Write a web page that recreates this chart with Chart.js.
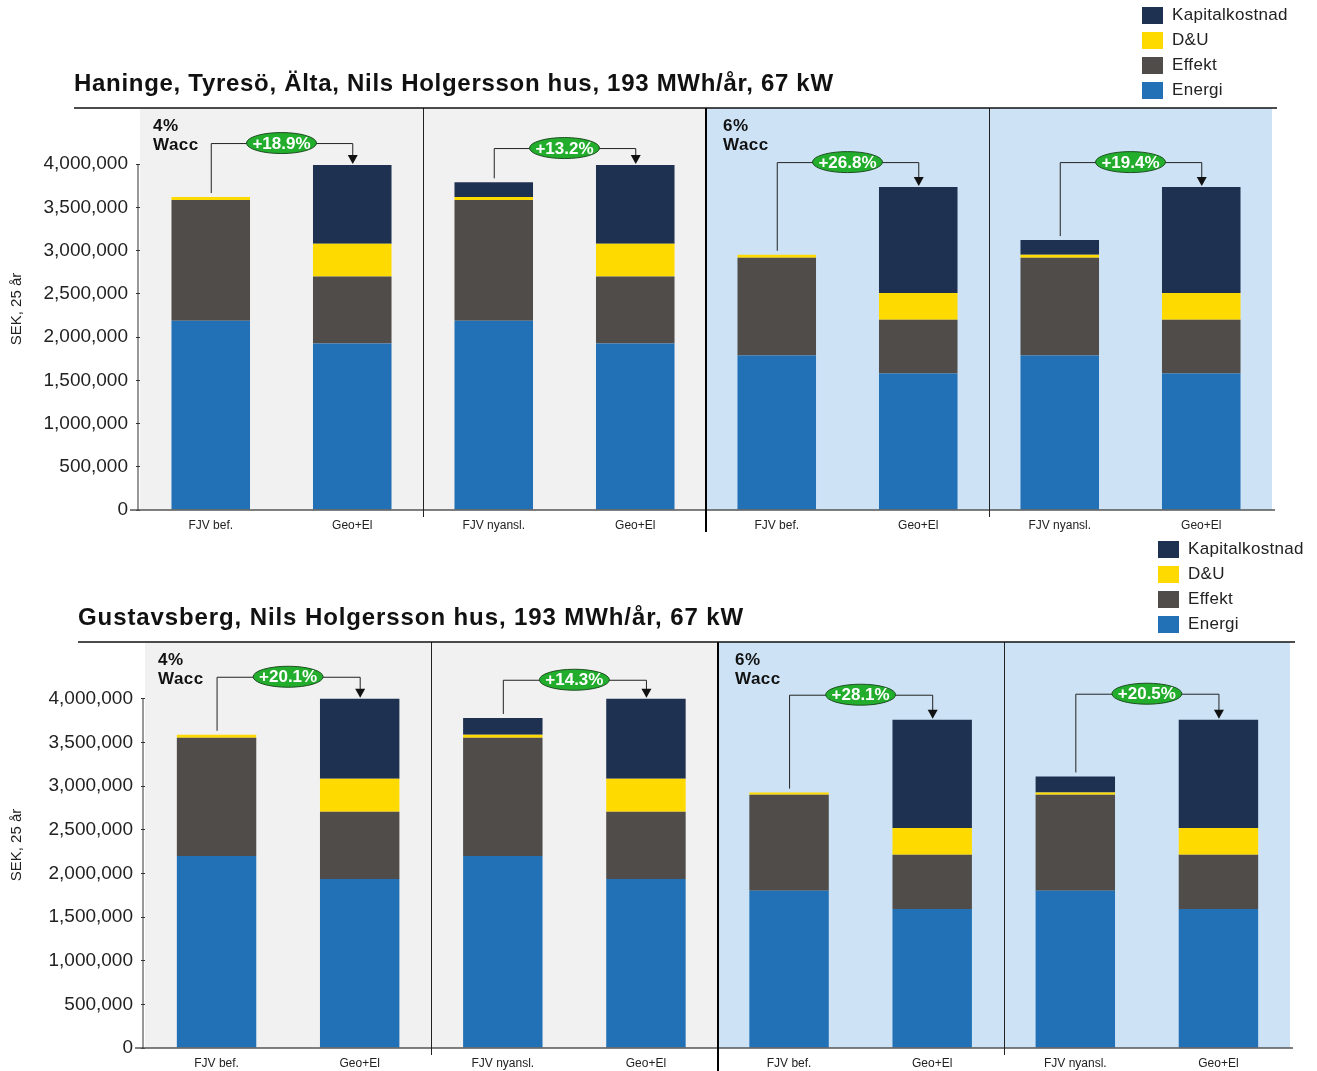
<!DOCTYPE html>
<html>
<head>
<meta charset="utf-8">
<script src="https://cdn.jsdelivr.net/npm/chart.js@4"></script>
<style>
  html, body { margin: 0; padding: 0; background: #fff; }
  canvas { display: block; }
</style>
</head>
<body>
<canvas id="chart-top" width="1317" height="535"></canvas>
<canvas id="chart-bottom" width="1317" height="536"></canvas>
<script>
// ── Data ────────────────────────────────────────────────────
const categories = ['FJV bef.', 'Geo+El', 'FJV nyansl.', 'Geo+El', 'FJV bef.', 'Geo+El', 'FJV nyansl.', 'Geo+El'];
const seriesNames = ['Energi', 'Effekt', 'D&U', 'Kapitalkostnad'];

const topTitle   = 'Haninge, Tyresö, Älta, Nils Holgersson hus, 193 MWh/år, 67 kW';
const topEnergi  = [2190000, 1925000, 2190000, 1925000, 1787000, 1580000, 1787000, 1580000];
const topEffekt  = [1395000,  775000, 1395000,  775000, 1130000,  620000, 1130000,  620000];
const topDU      = [  35000,  380000,   35000,  380000,   35000,  310000,   35000,  310000];
const topKapital = [      0,  910000,  170000,  910000,       0, 1225000,  170000, 1225000];
const topChanges = ['+18.9%', '+13.2%', '+26.8%', '+19.4%'];

const botTitle   = 'Gustavsberg, Nils Holgersson hus, 193 MWh/år, 67 kW';
const botEnergi  = [2200000, 1937000, 2200000, 1937000, 1800000, 1593000, 1800000, 1593000];
const botEffekt  = [1353000,  768000, 1353000,  768000, 1100000,  619000, 1100000,  619000];
const botDU      = [  34000,  378000,   34000,  378000,   25000,  308000,   25000,  308000];
const botKapital = [      0,  917000,  193000,  917000,       0, 1240000,  185000, 1240000];
const botChanges = ['+20.1%', '+14.3%', '+28.1%', '+20.5%'];

const waccLabels = [['4%', 'Wacc'], ['6%', 'Wacc']];
const yTicks = [0, 500000, 1000000, 1500000, 2000000, 2500000, 3000000, 3500000, 4000000];

const COLORS = {
  energi:  '#2271b6',
  effekt:  '#4f4c49',
  du:      '#ffda00',
  kapital: '#1f3150',
  grey:    '#f1f1f1',
  blue:    '#cde3f5',
  green:   '#22ad2c',
};
const SERIES_COLORS = [COLORS.energi, COLORS.effekt, COLORS.du, COLORS.kapital];
const FONT = '"Liberation Sans", Arial, sans-serif';

// ── Overlay plugin: backgrounds, dividers, arrows, title, legend ──
const overlayPlugin = {
  id: 'overlay',
  beforeDatasetsDraw(chart, args, o) {
    const { ctx, chartArea: a, scales: { x } } = chart;
    const mid = (x.getPixelForTick(3) + x.getPixelForTick(4)) / 2;
    ctx.save();
    ctx.fillStyle = COLORS.grey;
    ctx.fillRect(a.left, a.top, mid - a.left, a.bottom - a.top);
    ctx.fillStyle = COLORS.blue;
    ctx.fillRect(mid, a.top, a.right - mid, a.bottom - a.top);
    ctx.restore();
  },
  afterDatasetsDraw(chart, args, o) {
    const { ctx, chartArea: a, scales: { x, y } } = chart;
    const px = i => x.getPixelForTick(i);
    const between = (i, j) => (px(i) + px(j)) / 2;
    ctx.save();

    // x axis line
    ctx.strokeStyle = '#555';
    ctx.lineWidth = 1.5;
    ctx.beginPath();
    ctx.moveTo(a.left - 10, a.bottom);
    ctx.lineTo(a.right + 3, a.bottom);
    ctx.stroke();

    // y axis line (up to top tick)
    ctx.strokeStyle = '#333';
    ctx.lineWidth = 1;
    ctx.beginPath();
    ctx.moveTo(a.left - 2, y.getPixelForValue(4000000));
    ctx.lineTo(a.left - 2, a.bottom);
    ctx.stroke();

    // thin dividers
    ctx.strokeStyle = '#222';
    ctx.lineWidth = 1;
    [[1, 2], [5, 6]].forEach(([i, j]) => {
      const xx = Math.round(between(i, j)) + 0.5;
      ctx.beginPath();
      ctx.moveTo(xx, a.top);
      ctx.lineTo(xx, a.bottom + 7);
      ctx.stroke();
    });
    // thick divider
    ctx.strokeStyle = '#000';
    ctx.lineWidth = 2;
    const mx = Math.round(between(3, 4));
    ctx.beginPath();
    ctx.moveTo(mx, a.top);
    ctx.lineTo(mx, a.bottom + o.thickExtend);
    ctx.stroke();

    // top rule
    ctx.strokeStyle = '#111';
    ctx.lineWidth = 1.5;
    ctx.beginPath();
    ctx.moveTo(o.ruleLeft, a.top);
    ctx.lineTo(a.right + 5, a.top);
    ctx.stroke();

    // Wacc labels
    ctx.fillStyle = '#111';
    ctx.font = 'bold 17px ' + FONT;
    ctx.letterSpacing = '0.5px';
    ctx.textBaseline = 'middle';
    ctx.textAlign = 'left';
    [[a.left, 13], [mx, 17]].forEach(([x0, dx], k) => {
      ctx.fillText(waccLabels[k][0], x0 + dx, a.top + 18);
      ctx.fillText(waccLabels[k][1], x0 + dx, a.top + 37);
    });
    ctx.letterSpacing = '0px';

    // change arrows
    const totals = categories.map((_, i) =>
      chart.data.datasets.reduce((s, d) => s + d.data[i], 0));
    o.changes.forEach((label, g) => {
      const xl = px(2 * g), xr = px(2 * g + 1);
      const yl = y.getPixelForValue(totals[2 * g]);
      const yr = y.getPixelForValue(totals[2 * g + 1]);
      const elbow = yr - o.offsets[g];
      ctx.strokeStyle = '#222';
      ctx.lineWidth = 1;
      ctx.beginPath();
      ctx.moveTo(xl + 0.5, yl - 4);
      ctx.lineTo(xl + 0.5, elbow + 0.5);
      ctx.lineTo(xr + 0.5, elbow + 0.5);
      ctx.lineTo(xr + 0.5, yr - 9);
      ctx.stroke();
      ctx.fillStyle = '#111';
      ctx.beginPath();
      ctx.moveTo(xr - 4.5, yr - 10);
      ctx.lineTo(xr + 5.5, yr - 10);
      ctx.lineTo(xr + 0.5, yr - 1);
      ctx.closePath();
      ctx.fill();

      const cx = (xl + xr) / 2;
      ctx.fillStyle = COLORS.green;
      ctx.strokeStyle = '#1d4f20';
      ctx.lineWidth = 1;
      ctx.beginPath();
      ctx.ellipse(cx, elbow, 35, 10.5, 0, 0, Math.PI * 2);
      ctx.fill();
      ctx.stroke();
      ctx.fillStyle = '#fff';
      ctx.font = 'bold 17px ' + FONT;
      ctx.textAlign = 'center';
      ctx.fillText(label, cx, elbow + 1);
    });

    // title
    ctx.fillStyle = '#111';
    ctx.font = 'bold 24px ' + FONT;
    ctx.letterSpacing = o.titleSpacing;
    ctx.textAlign = 'left';
    ctx.fillText(o.title, o.titleX, o.titleY);
    ctx.letterSpacing = '0px';

    // legend (reverse order: Kapitalkostnad first)
    ctx.font = '17px ' + FONT;
    ctx.letterSpacing = '0.3px';
    const ds = chart.data.datasets.slice().reverse();
    ds.forEach((d, k) => {
      const yy = o.legendY + k * 25;
      ctx.fillStyle = d.backgroundColor;
      ctx.fillRect(o.legendX, yy - 8, 21, 17);
      ctx.fillStyle = '#222';
      ctx.fillText(d.label, o.legendX + 30, yy);
    });
    ctx.restore();
  },
};

function makeChart(id, series, cfg) {
  const ctx = document.getElementById(id).getContext('2d');
  return new Chart(ctx, {
    type: 'bar',
    data: {
      labels: categories,
      datasets: series.map((vals, i) => ({
        label: seriesNames[i],
        data: vals,
        backgroundColor: SERIES_COLORS[i],
        borderWidth: 0,
        barPercentage: 0.555,
        categoryPercentage: 1,
      })),
    },
    options: {
      responsive: false,
      animation: false,
      layout: { padding: { top: cfg.top, right: cfg.right, left: 0, bottom: 0 } },
      plugins: {
        legend: { display: false },
        tooltip: { enabled: false },
        overlay: cfg.overlay,
      },
      scales: {
        x: {
          stacked: true,
          grid: { display: false },
          border: { display: false },
          ticks: { color: '#222', font: { family: FONT, size: 12 }, padding: 0, maxRotation: 0 },
          afterFit: s => { s.height = cfg.xHeight; },
        },
        y: {
          stacked: true,
          min: 0,
          max: 4650000,
          afterBuildTicks: s => { s.ticks = yTicks.map(v => ({ value: v })); },
          grid: { drawOnChartArea: false, drawTicks: true, tickLength: 4, color: '#333' },
          border: { display: false },
          ticks: {
            color: '#222',
            padding: 8,
            font: { family: FONT, size: 19 },
            callback: v => v.toLocaleString('en-US'),
          },
          title: {
            display: true,
            text: 'SEK, 25 år',
            color: '#222',
            font: { family: FONT, size: 15 },
            padding: { top: 8, bottom: 0 },
          },
          afterFit: s => { s.width = cfg.yWidth; },
        },
      },
    },
    plugins: [overlayPlugin],
  });
}

makeChart('chart-top', [topEnergi, topEffekt, topDU, topKapital], {
  top: 108, right: 45, xHeight: 25, yWidth: 140,
  overlay: {
    title: topTitle, titleX: 74, titleY: 84, titleSpacing: '0.7px',
    legendX: 1142, legendY: 15,
    ruleLeft: 74, thickExtend: 22,
    changes: topChanges, offsets: [22, 17, 25, 25],
  },
});

makeChart('chart-bottom', [botEnergi, botEffekt, botDU, botKapital], {
  top: 107, right: 27, xHeight: 23, yWidth: 145,
  overlay: {
    title: botTitle, titleX: 78, titleY: 83, titleSpacing: '0.9px',
    legendX: 1158, legendY: 14,
    ruleLeft: 78, thickExtend: 30,
    changes: botChanges, offsets: [22, 19, 25, 26],
  },
});
</script>
</body>
</html>
